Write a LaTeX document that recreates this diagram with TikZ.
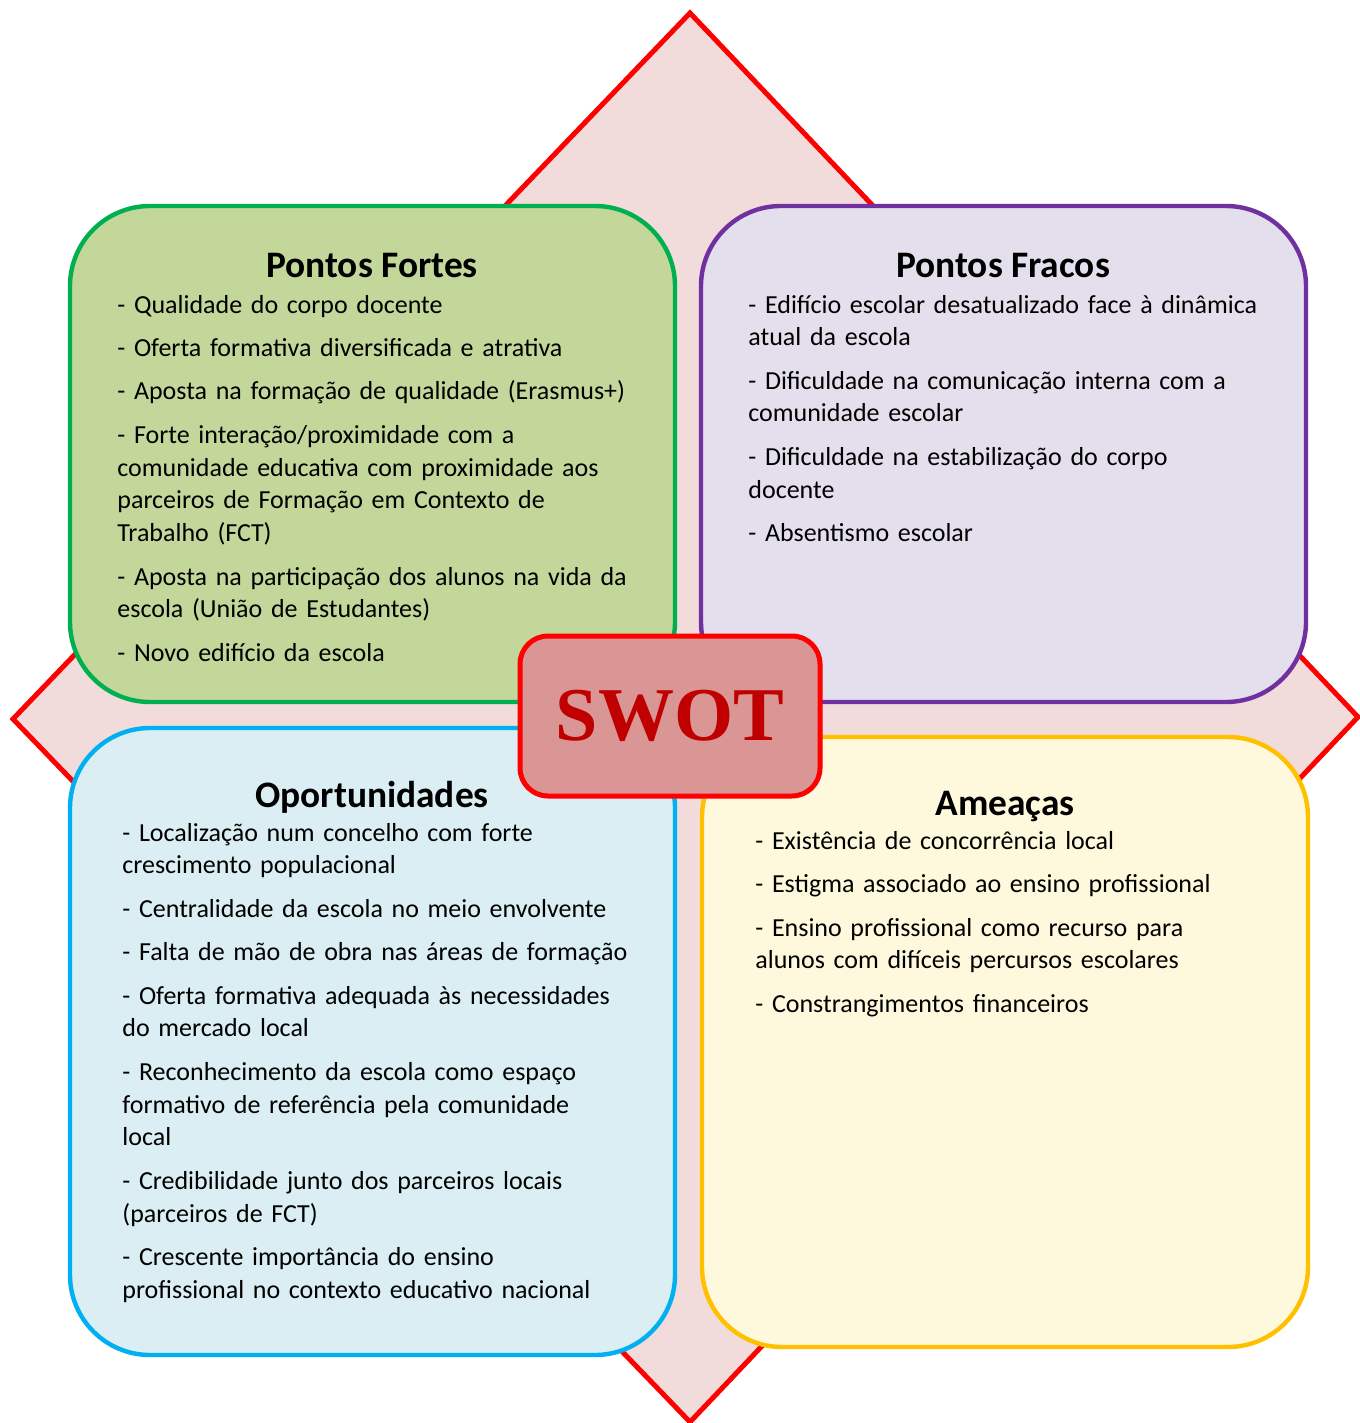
\documentclass[tikz,border=0pt]{standalone}
\usepackage{fontspec}
\setmainfont{Carlito}
\newfontfamily\swotfont{Liberation Serif}
\definecolor{losango}{HTML}{F2DCDB}
\definecolor{fortesfill}{HTML}{C4D79B}
\definecolor{fortesline}{HTML}{00B050}
\definecolor{fracosfill}{HTML}{E4DFEC}
\definecolor{fracosline}{HTML}{7030A0}
\definecolor{oportfill}{HTML}{DAEEF3}
\definecolor{oportline}{HTML}{00B0F0}
\definecolor{ameacfill}{HTML}{FEF9DC}
\definecolor{ameacline}{HTML}{FFC000}
\definecolor{swotfill}{HTML}{D99694}
\definecolor{swotred}{HTML}{C00000}
\newcommand{\gap}{\\[5.4pt]}

\tikzset{
  quad/.style={rounded corners=40pt, line width=2.2pt},
  qtitle/.style={anchor=base, inner sep=0pt, font=\fontsize{18.7}{22}\selectfont\bfseries},
  qtext/.style={anchor=base west, inner sep=0pt, text width=290pt, align=left,
                font=\fontsize{13}{16.35}\selectfont},
  swotbox/.style={draw=red, fill=swotfill, line width=2.5pt, rounded corners=14pt,
                  minimum width=150pt, minimum height=80pt, text=swotred,
                  font=\swotfont\bfseries\fontsize{38}{40}\selectfont}
}

\begin{document}
\begin{tikzpicture}[x=0.5pt,y=-0.5pt]
   \useasboundingbox (0,0) rectangle (1359,1423);
   % losango de fundo
   \filldraw[fill=losango, draw=red, line width=2.5pt]
      (690,13) -- (1358,717) -- (690,1422) -- (13,719) -- cycle;
   % quadrantes
   \filldraw[quad, fill=fortesfill, draw=fortesline] (70,206) rectangle (675,702);
   \filldraw[quad, fill=fracosfill, draw=fracosline] (701,206) rectangle (1306,702);
   \filldraw[quad, fill=oportfill, draw=oportline] (70,728) rectangle (675,1355);
   \filldraw[quad, fill=ameacfill, draw=ameacline] (702,737) rectangle (1308,1347);
   % titulos
   \node[qtitle] (fortes) at (372,278) {Pontos Fortes};
   \node[qtitle] (fracos) at (1003,278) {Pontos Fracos};
   \node[qtitle] (oport) at (372,807) {Oportunidades};
   \node[qtitle] (ameac) at (1005,815) {Ameaças};
   % listas
   \node[qtext] (fortesl) at (117,313) {- Qualidade do corpo docente\gap
      - Oferta formativa diversificada e atrativa\gap
      - Aposta na formação de qualidade (Erasmus+)\gap
      - Forte interação/proximidade com a\\
      comunidade educativa com proximidade aos\\
      parceiros de Formação em Contexto de\\
      Trabalho (FCT)\gap
      - Aposta na participação dos alunos na vida da\\
      escola (União de Estudantes)\gap
      - Novo edifício da escola};
   \node[qtext] (fracosl) at (748,313) {- Edifício escolar desatualizado face à dinâmica\\
      atual da escola\gap
      - Dificuldade na comunicação interna com a\\
      comunidade escolar\gap
      - Dificuldade na estabilização do corpo\\
      docente\gap
      - Absentismo escolar};
   \node[qtext] (oportl) at (122,841) {- Localização num concelho com forte\\
      crescimento populacional\gap
      - Centralidade da escola no meio envolvente\gap
      - Falta de mão de obra nas áreas de formação\gap
      - Oferta formativa adequada às necessidades\\
      do mercado local\gap
      - Reconhecimento da escola como espaço\\
      formativo de referência pela comunidade\\
      local\gap
      - Credibilidade junto dos parceiros locais\\
      (parceiros de FCT)\gap
      - Crescente importância do ensino\\
      profissional no contexto educativo nacional};
   \node[qtext] (ameacl) at (755,849) {- Existência de concorrência local\gap
      - Estigma associado ao ensino profissional\gap
      - Ensino profissional como recurso para\\
      alunos com difíceis percursos escolares\gap
      - Constrangimentos financeiros};
   % centro
   \node[swotbox] (swot) at (670,716) {SWOT};
\end{tikzpicture}
\end{document}
